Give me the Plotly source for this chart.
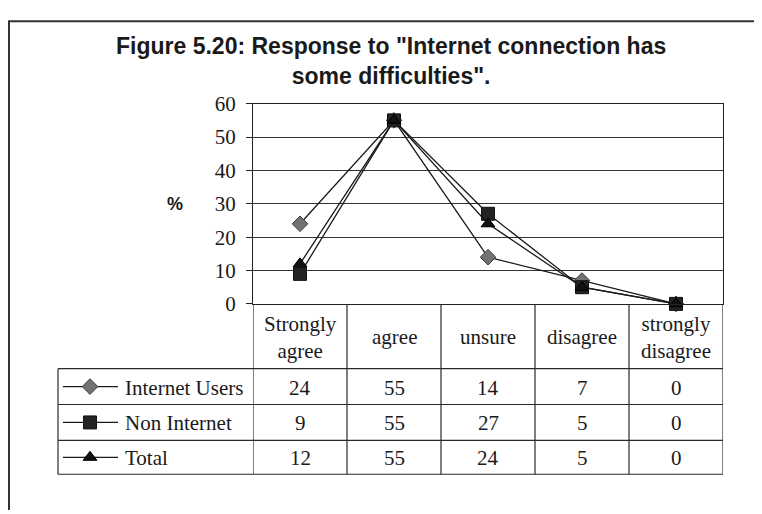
import plotly.graph_objects as go

# ---- data ----
categories = ["Strongly agree", "agree", "unsure", "disagree", "strongly disagree"]
header_labels = ["Strongly<br>agree", "agree", "unsure", "disagree", "strongly<br>disagree"]
series_names = ["Internet Users", "Non Internet", "Total"]
internet_users = [24, 55, 14, 7, 0]
non_internet = [9, 55, 27, 5, 0]
total = [12, 55, 24, 5, 0]
y_ticks = [0, 10, 20, 30, 40, 50, 60]

OFFX = 8                    # page body margin (horizontal)
W, H = 754, 514
# observed vertical placement on the captured page: screen_y = Y0 + KY * figure_y
Y0, KY = 18.0, 0.957


def fy(t):
    """screen pixel -> figure pixel (vertical)"""
    return (t - Y0) / KY


SERIF = "Liberation Serif, Times New Roman, serif"
SANS = "Liberation Sans, Arial, sans-serif"

# layout in screen pixels
PL, PR, PT, PB = 253, 723, 102, 303
HDR_TOP, HDR_BOT = 303, 368
ROW_EDGES = [368, 404, 440, 474]
LEFT_COL = 58

styles = [
    dict(symbol="diamond", size=12, color="#727272", line=dict(color="#3a3a3a", width=1)),
    dict(symbol="square", size=13, color="#232323", line=dict(color="#111111", width=1)),
    dict(symbol="triangle-up", size=12, color="#111111", line=dict(color="#000000", width=1)),
]
series_vals = [internet_users, non_internet, total]

fig = go.Figure()
for name, vals, st in zip(series_names, series_vals, styles):
    fig.add_trace(go.Scatter(
        x=categories, y=vals, mode="lines+markers", name=name,
        line=dict(color="#1a1a1a", width=1.3),
        marker=st, cliponaxis=False, showlegend=False,
        xaxis="x", yaxis="y",
    ))

for i, (name, st) in enumerate(zip(series_names, styles)):
    yc = (ROW_EDGES[i] + ROW_EDGES[i + 1]) / 2
    fig.add_trace(go.Scatter(
        x=[63, 90, 118], y=[yc, yc, yc], mode="lines",
        line=dict(color="#1a1a1a", width=1.3), showlegend=False,
        xaxis="x2", yaxis="y2", hoverinfo="skip",
    ))
    fig.add_trace(go.Scatter(
        x=[90], y=[yc], mode="markers", marker=st, showlegend=False,
        xaxis="x2", yaxis="y2", hoverinfo="skip", cliponaxis=False,
    ))

shapes = []
LC = "#2a2a2a"
shapes.append(dict(type="rect", xref="x2", yref="y2", x0=9, x1=790, y0=Y0 + KY * 1.2, y1=560,
                   line=dict(color="#333333", width=2)))
n = len(categories)
for k in range(n + 1):
    shapes.append(dict(type="line", xref="x", yref="y2", x0=k - 0.5, x1=k - 0.5,
                       y0=HDR_TOP, y1=ROW_EDGES[-1], line=dict(color=LC, width=1.2)))
for yy in ROW_EDGES:
    shapes.append(dict(type="line", xref="x2", yref="y2", x0=LEFT_COL, x1=PR,
                       y0=yy, y1=yy, line=dict(color=LC, width=1.2)))
shapes.append(dict(type="line", xref="x2", yref="y2", x0=LEFT_COL, x1=LEFT_COL,
                   y0=ROW_EDGES[0], y1=ROW_EDGES[-1], line=dict(color=LC, width=1.2)))

annotations = []
annotations.append(dict(xref="x2", yref="y2", x=391, y=59, yanchor="middle", showarrow=False,
                        text='<b>Figure 5.20: Response to "Internet connection has<br>some difficulties".</b>',
                        font=dict(family=SANS, size=23, color="#1a1a1a"), align="center"))
annotations.append(dict(xref="x2", yref="y2", x=175, y=203, showarrow=False,
                        text="<b>%</b>", font=dict(family=SANS, size=18, color="#1a1a1a")))
for k, lab in enumerate(header_labels):
    annotations.append(dict(xref="x", yref="y2", x=k, y=(HDR_TOP + HDR_BOT) / 2 + 1,
                            showarrow=False, text=lab, align="center",
                            font=dict(family=SERIF, size=21, color="#1a1a1a")))
for i, (name, vals) in enumerate(zip(series_names, series_vals)):
    yc = (ROW_EDGES[i] + ROW_EDGES[i + 1]) / 2 + 1
    annotations.append(dict(xref="x2", yref="y2", x=123, y=yc, xanchor="left",
                            showarrow=False, text=name,
                            font=dict(family=SERIF, size=21, color="#1a1a1a")))
    for k, v in enumerate(vals):
        annotations.append(dict(xref="x", yref="y2", x=k, y=yc, showarrow=False,
                                text=str(v), font=dict(family=SERIF, size=21, color="#1a1a1a")))

fig.update_layout(
    width=W, height=H, margin=dict(l=0, r=0, t=0, b=0),
    paper_bgcolor="white", plot_bgcolor="rgba(0,0,0,0)",
    showlegend=False,
    xaxis=dict(domain=[(PL - OFFX) / W, (PR - OFFX) / W], range=[-0.5, n - 0.5], type="category",
               categoryorder="array", categoryarray=categories,
               showticklabels=False, ticks="", showgrid=False,
               showline=True, mirror=True, linecolor="#222222", linewidth=1.3,
               zeroline=False, fixedrange=True),
    yaxis=dict(domain=[(H - fy(PB)) / H, (H - fy(PT)) / H], range=[0, 60],
               tickvals=y_ticks, ticktext=[str(t) for t in y_ticks],
               ticks="outside", ticklen=6, tickcolor="#222222",
               showgrid=True, gridcolor="#333333", gridwidth=1,
               showline=True, mirror=True, linecolor="#222222", linewidth=1.3,
               zeroline=False, ticklabelstandoff=6,
               tickfont=dict(family=SERIF, size=21, color="#1a1a1a")),
    xaxis2=dict(domain=[0, 1], range=[OFFX, W + OFFX], visible=False, anchor="y2", fixedrange=True),
    yaxis2=dict(domain=[0, 1], range=[Y0 + KY * H, Y0], visible=False, anchor="x2", fixedrange=True),
    shapes=shapes, annotations=annotations,
)

fig.write_html("out.html")
